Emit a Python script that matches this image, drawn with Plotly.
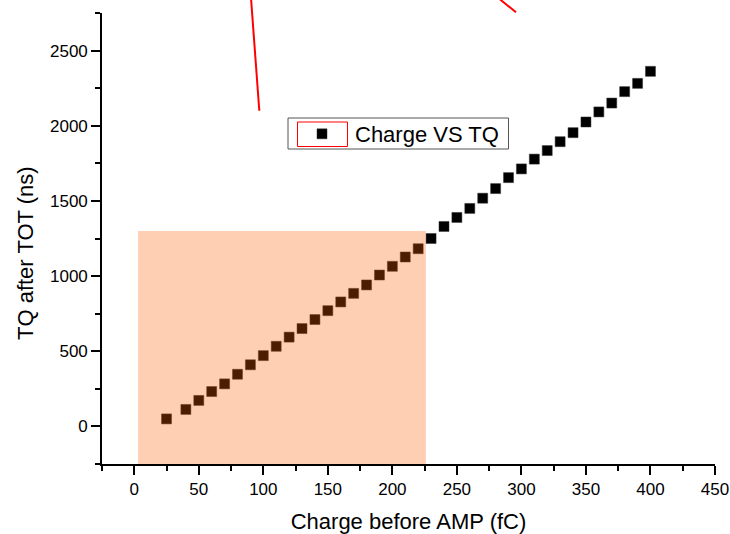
import plotly.graph_objects as go

# ---- data ----
charge_fc = [25, 40, 50, 60, 70, 80, 90, 100, 110, 120, 130, 140, 150, 160, 170,
             180, 190, 200, 210, 220, 230, 240, 250, 260, 270, 280, 290, 300,
             310, 320, 330, 340, 350, 360, 370, 380, 390, 400]
tq_ns = [50, 113, 173, 232, 283, 347, 410, 471, 533, 594, 651, 711, 770, 828,
         885, 941, 1007, 1065, 1127, 1182, 1250, 1330, 1390, 1450, 1518, 1582,
         1655, 1713, 1778, 1835, 1894, 1954, 2025, 2092, 2151, 2227, 2282, 2362]
series_name = "Charge VS TQ"
x_title = "Charge before AMP (fC)"
y_title = "TQ after TOT (ns)"
x_ticks = [0, 50, 100, 150, 200, 250, 300, 350, 400, 450]
y_ticks = [0, 500, 1000, 1500, 2000, 2500]
highlight_x = [3, 226]
highlight_y = [-250, 1300]

FONT = "Liberation Sans, Arial, sans-serif"
W, H = 730, 534
# plot area in page pixels
PX0, PX1, PY0, PY1 = 102, 715, 13, 464
ML, MT = PX0, PY0
MR = W - PX1
MB = H - PY1

def px2paper(px, py):
    return (px - PX0) / (PX1 - PX0), (PY1 - py) / (PY1 - PY0)

fig = go.Figure()
fig.add_trace(go.Scatter(
    x=charge_fc, y=tq_ns, mode="markers", name=series_name,
    marker=dict(symbol="square", size=10, color="#000000",
                line=dict(width=0.5, color="#333333")),
    cliponaxis=False,
))

# translucent orange highlight, drawn above markers
fig.add_shape(type="rect", xref="x", yref="y",
              x0=highlight_x[0], x1=highlight_x[1],
              y0=highlight_y[0], y1=highlight_y[1],
              fillcolor="rgba(251,95,0,0.3)", line=dict(width=0), layer="above")

# red stray lines
for (a, b) in [((251, -2), (259.3, 110.7)), ((498.3, -2), (516, 12.3))]:
    x0, y0 = px2paper(*a)
    x1, y1 = px2paper(*b)
    fig.add_shape(type="line", xref="paper", yref="paper",
                  x0=x0, y0=y0, x1=x1, y1=y1,
                  line=dict(color="#ff0000", width=2))

# legend frame
bx0, by0 = px2paper(288, 149)
bx1, by1 = px2paper(508.5, 118)
fig.add_shape(type="rect", xref="paper", yref="paper",
              x0=bx0, y0=by0, x1=bx1, y1=by1,
              line=dict(color="#555555", width=1), fillcolor="#ffffff", layer="above")
# red frame round the legend symbol
rx0, ry0 = px2paper(297.5, 146.5)
rx1, ry1 = px2paper(347.5, 122)
fig.add_shape(type="rect", xref="paper", yref="paper",
              x0=rx0, y0=ry0, x1=rx1, y1=ry1,
              line=dict(color="#ff0000", width=1), fillcolor="rgba(0,0,0,0)", layer="above")

lx, ly = px2paper(289, 134)

# y-axis title placed as a rotated annotation (sits slightly below centre)
tx, ty = px2paper(25, 253)
fig.add_annotation(text=y_title, xref="paper", yref="paper", x=tx, y=ty,
                   xanchor="center", yanchor="middle", textangle=-90,
                   showarrow=False, font=dict(family=FONT, size=22, color="#000000"))

axis_common = dict(
    showgrid=False, zeroline=False, showline=True, linecolor="#000000",
    linewidth=1.6, ticks="outside", ticklen=9, tickwidth=1.5,
    tickcolor="#000000", mirror=False, automargin=False,
    tickfont=dict(family=FONT, size=17, color="#000000"),
)

fig.update_layout(
    width=W, height=H,
    margin=dict(l=ML, r=MR, t=MT, b=MB),
    paper_bgcolor="#ffffff", plot_bgcolor="#ffffff",
    font=dict(family=FONT, color="#000000"),
    showlegend=True,
    legend=dict(x=lx, y=ly, xanchor="left", yanchor="middle",
                bgcolor="rgba(0,0,0,0)", borderwidth=0,
                font=dict(family=FONT, size=22, color="#000000"),
                itemwidth=56),
    xaxis=dict(range=[-25, 450], tickvals=x_ticks,
               minor=dict(dtick=25, tick0=-25, ticks="outside", ticklen=5,
                          tickwidth=1.5, tickcolor="#000000"),
               title=dict(text=x_title, font=dict(family=FONT, size=22), standoff=20),
               **axis_common),
    yaxis=dict(range=[-250, 2750], tickvals=y_ticks,
               minor=dict(dtick=250, tick0=-250, ticks="outside", ticklen=5,
                          tickwidth=1.5, tickcolor="#000000"),
               **axis_common),
)

page_fix = ("document.documentElement.style.margin='0';"
            "document.body.style.margin='0';"
            "document.documentElement.style.overflow='hidden';"
            "document.body.style.overflow='hidden';")

fig.write_html("out.html", post_script=page_fix,
               config={"displayModeBar": False})
